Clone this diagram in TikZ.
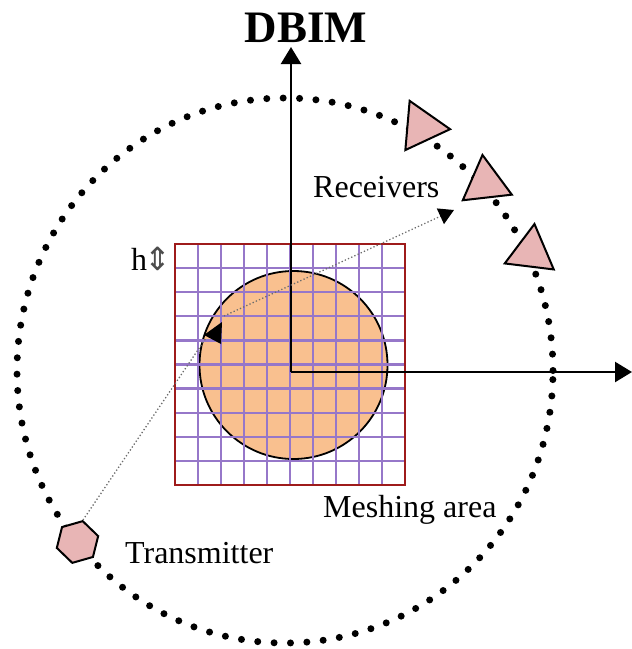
\documentclass[tikz,border=0pt]{standalone}
\usepackage{fontspec}
\setmainfont{Liberation Serif}
\newfontfamily\symfont{DejaVu Sans}
\usetikzlibrary{arrows.meta,shapes.geometric}
\definecolor{peach}{HTML}{F9C08F}
\definecolor{gridpurple}{HTML}{9677C9}
\definecolor{meshred}{HTML}{9E1B1B}
\definecolor{pinkfill}{HTML}{E8B5B5}
\begin{document}
\begin{tikzpicture}[x=1pt,y=-1pt,
  lbl/.style={inner sep=0pt,font=\fontsize{32}{38}\selectfont},
  axis/.style={line width=2.4pt,-{Triangle[length=17pt,width=20pt]}},
  bigdots/.style={line width=7pt,line cap=round,dash pattern=on 0pt off 16.4pt},
  ray/.style={gray!85!black,line width=1.3pt,dash pattern=on 1.3pt off 2.2pt},
  rxshape/.style={regular polygon,regular polygon sides=3,minimum size=57pt,inner sep=0pt,draw=black,line width=2pt,fill=pinkfill},
  txshape/.style={regular polygon,regular polygon sides=6,minimum size=43pt,inner sep=0pt,draw=black,line width=2pt,fill=pinkfill},
  gridline/.style={gridpurple,line width=2.3pt},
]
\useasboundingbox (0,0) rectangle (632,649);

% big dotted measurement circle
\draw[bigdots] (285,370.5) ellipse [x radius=268pt, y radius=272.5pt];

% scatterer
\fill[peach] (293.5,365) circle [radius=94pt];
\draw[black,line width=1.8pt] (293.5,365) circle [radius=94pt];

% mesh grid
\foreach \i in {1,...,9}{
  \draw[gridline] ({175+23*\i},244) -- ({175+23*\i},485);
  \draw[gridline] (175,{244+24.1*\i}) -- (405,{244+24.1*\i});
}
\draw[meshred,line width=2.2pt] (175,244) rectangle (405,485);

% axes
\coordinate (O) at (291,372);
\coordinate (ytip) at (291,47);
\coordinate (xtip) at (632,372);
\draw[axis] (O) -- (ytip);
\draw[axis] (O) -- (xtip);

% receivers
\node[rxshape,rotate=25] (rx1) at (421.7,126.7) {};
\node[rxshape,rotate=6.5] (rx2) at (485.7,183.3) {};
\node[rxshape,rotate=-7] (rx3) at (531,252.3) {};

% transmitter
\node[txshape,rotate=16] (tx) at (77.5,542) {};

% ray paths
\coordinate (sc) at (206,338);
\coordinate (scout) at (224,316);
\coordinate (rxpt) at (454,210);
\draw[ray] (tx.corner 1) -- (sc);
\fill[black] (204,335) -- (222,322) -- (221,344) -- cycle;
\draw[ray,-{Triangle[length=15pt,width=17pt,black]}] (scout) -- (rxpt);

% labels
\node[inner sep=0pt,anchor=base,font=\bfseries\fontsize{45}{50}\selectfont] (dbim) at (306,42) {DBIM};
\node[lbl,anchor=base west] (rxl) at (313,197) {Receivers};
\node[lbl,anchor=base west] (mesh) at (323,517) {Meshing area};
\node[lbl,anchor=base west] (txl) at (125,563) {Transmitter};
\node[lbl,anchor=base west] (hl) at (131,270) {h};
\node[inner sep=0pt,font=\symfont\fontsize{32}{36}\selectfont,gray!60!black] (harr) at (158,259) {⇕};
\end{tikzpicture}
\end{document}
